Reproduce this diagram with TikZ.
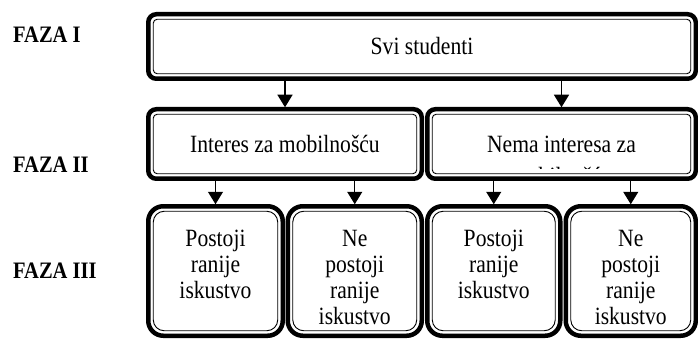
\documentclass[tikz,border=0pt]{standalone}
\usepackage{fontspec}
\usepackage{graphicx}
\setmainfont{Liberation Serif}
\usetikzlibrary{arrows.meta,calc}

% text is set slightly taller than its natural shape
\newcommand\tall[1]{\scalebox{1}[1.15]{#1}}
\newcommand\diagtext{\fontsize{21.6pt}{26pt}\selectfont}
\newcommand\phasetext{\fontsize{20.5pt}{24pt}\selectfont\bfseries}

\tikzset{
  panel/.style={draw, line width=4.5pt, rounded corners=#1, outer sep=0pt,
    inner sep=0pt, align=center, font=\diagtext},
  innerframe/.style={draw, line width=0.9pt, rounded corners=#1},
  celltext/.style={anchor=north, inner sep=0pt, align=center, font=\diagtext},
  phase/.style={anchor=base west, inner sep=0pt, font=\phasetext},
  arr/.style={line width=1.3pt, -{Triangle[length=12.5pt, width=15pt]}, shorten >=2pt},
}

\begin{document}
\begin{tikzpicture}[x=1pt, y=-1pt]
  \useasboundingbox (0,0) rectangle (698,339);

  % phase labels
  \node[phase] (p1) at (13,43)  {\tall{FAZA I}};
  \node[phase] (p2) at (13,173) {\tall{FAZA II}};
  \node[phase] (p3) at (13,278) {\tall{FAZA III}};

  % level 1
  \node[panel=8pt, minimum width=547.5pt, minimum height=64.5pt] (b1) at (422,46.5) {\tall{Svi studenti}};

  % level 2
  \node[panel=8pt, minimum width=273.5pt, minimum height=69.5pt] (b2a) at (285,144) {\tall{Interes za mobilnošću}};
  \node[panel=8pt, minimum width=268.5pt, minimum height=69.5pt] (b2b) at (561.5,144) {\tall{Nema interesa za}};

  % second line of the right box, cut off by the frame
  \begin{scope}
    \clip (432,150) rectangle (691,169);
    \node[anchor=base, inner sep=0pt, font=\diagtext] (b2bx) at (561.5,184) {\tall{mobilnošću}};
  \end{scope}

  % level 3
  \node[panel=15pt, minimum width=134.5pt, minimum height=129.5pt] (c1) at (215.5,271) {};
  \node[panel=15pt, minimum width=134pt, minimum height=129.5pt] (c2) at (354.75,271) {};
  \node[panel=15pt, minimum width=133pt, minimum height=129.5pt] (c3) at (493.75,271) {};
  \node[panel=15pt, minimum width=130pt, minimum height=129.5pt] (c4) at (630.75,271) {};

  \node[celltext] (c1t) at (c1.center |- 0,230) {\tall{Postoji}\\\tall{ranije}\\\tall{iskustvo}};
  \node[celltext] (c2t) at (c2.center |- 0,230) {\tall{Ne}\\\tall{postoji}\\\tall{ranije}\\\tall{iskustvo}};
  \node[celltext] (c3t) at (c3.center |- 0,230) {\tall{Postoji}\\\tall{ranije}\\\tall{iskustvo}};
  \node[celltext] (c4t) at (c4.center |- 0,230) {\tall{Ne}\\\tall{postoji}\\\tall{ranije}\\\tall{iskustvo}};

  % thin inner frames
  \foreach \n/\r in {b1/4pt, b2a/4pt, b2b/4pt, c1/11pt, c2/11pt, c3/11pt, c4/11pt}
    \draw[innerframe=\r] ($(\n.south west)+(5pt,5pt)$) rectangle ($(\n.north east)-(5pt,5pt)$);

  % connectors
  \draw[arr] (b1.south -| b2a.north) -- (b2a.north);
  \draw[arr] (b1.south -| b2b.north) -- (b2b.north);
  \draw[arr] (b2a.south -| c1.north) -- (c1.north);
  \draw[arr] (b2a.south -| c2.north) -- (c2.north);
  \draw[arr] (b2b.south -| c3.north) -- (c3.north);
  \draw[arr] (b2b.south -| c4.north) -- (c4.north);
\end{tikzpicture}
\end{document}
